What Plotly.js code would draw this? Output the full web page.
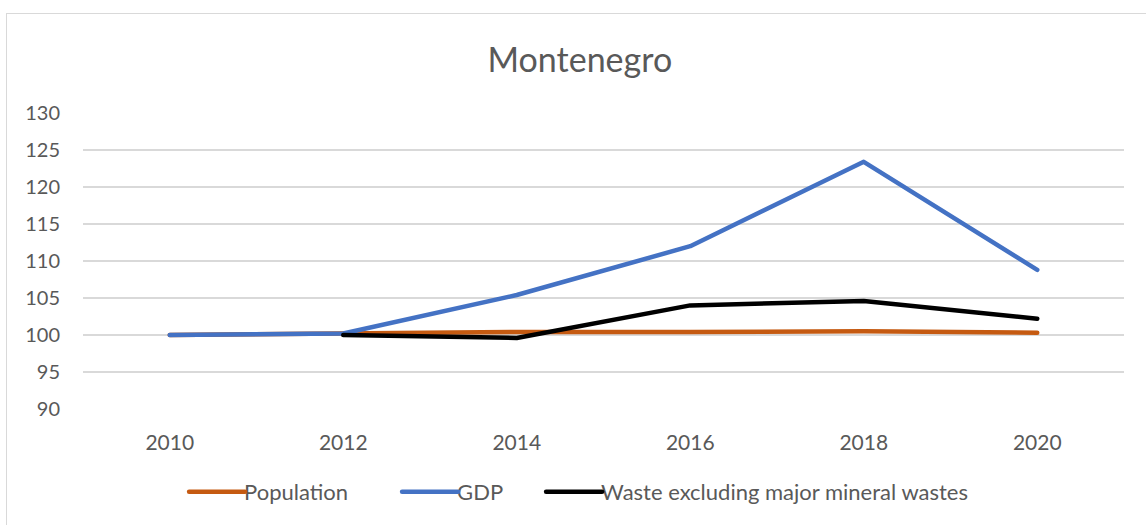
<!DOCTYPE html>
<html>
<head>
<meta charset="utf-8">
<script src="https://cdn.plot.ly/plotly-3.0.1.min.js"></script>
<style>
html,body{margin:0;padding:0;background:#fff;}
#wrap{position:relative;width:1146px;height:525px;overflow:hidden;}
#frame{position:absolute;left:6px;top:13px;width:1160px;height:540px;border:1.5px solid #d9d9d9;box-sizing:border-box;}
#chart{position:absolute;left:0;top:0;width:1146px;height:525px;}
</style>
</head>
<body>
<div id="wrap"><div id="frame"></div><div id="chart"></div></div>
<script>
const years = ["2010", "2012", "2014", "2016", "2018", "2020"];
const population = [100, 100.2, 100.4, 100.4, 100.5, 100.3];
const gdp = [100, 100.2, 105.4, 112.0, 123.4, 108.8];
const waste = [null, 100, 99.6, 104.0, 104.6, 102.2];
const yTicks = [90, 95, 100, 105, 110, 115, 120, 125, 130];

const font = "Lato, 'Open Sans', sans-serif";
const traces = [
  {x: years, y: population, name: "Population", type: "scatter", mode: "lines",
   line: {color: "#c55a11", width: 4.5}},
  {x: years, y: gdp, name: "GDP", type: "scatter", mode: "lines",
   line: {color: "#4472c4", width: 4.5}},
  {x: years, y: waste, name: "Waste excluding major mineral wastes", type: "scatter", mode: "lines",
   line: {color: "#000000", width: 4.5}, connectgaps: false}
];
const layout = {
  width: 1146, height: 525,
  margin: {l: 83, r: 22, t: 113, b: 116},
  paper_bgcolor: "rgba(0,0,0,0)",
  plot_bgcolor: "rgba(0,0,0,0)",
  title: {text: "Montenegro", x: 0.506, xanchor: "center", y: 0.885, yanchor: "middle",
          font: {family: font, size: 34, color: "#595959"}},
  xaxis: {type: "category", range: [-0.5, 5.5], showgrid: false, zeroline: false,
          showline: false, ticks: "", ticklabelstandoff: 19,
          tickfont: {family: font, size: 21, color: "#595959"}},
  yaxis: {range: [90, 130], tickvals: yTicks, ticktext: yTicks.map(String),
          gridcolor: "#d9d9d9", gridwidth: 1.3, zeroline: false, showline: false, ticks: "",
          ticklabelstandoff: 22,
          tickfont: {family: font, size: 20, color: "#595959"}},
  showlegend: true,
  legend: {orientation: "h", x: 0.49, xanchor: "center", y: -0.28, yanchor: "middle",
           font: {family: font, size: 22, color: "#595959"}, itemwidth: 56,
           traceorder: "normal", bgcolor: "rgba(0,0,0,0)"}
};
Plotly.newPlot("chart", traces, layout, {displayModeBar: false, staticPlot: true}).then(function(gd){
  // Spread legend entries apart like the original (wider gaps between entries)
  var shifts = [-44, -6, 21];
  gd.querySelectorAll('.legend [clip-path]').forEach(function(el){ el.removeAttribute('clip-path'); });
  gd.querySelectorAll('.legend .traces').forEach(function(t, i){
    var tr = t.getAttribute('transform') || '';
    var m = /translate\(\s*([-\d.e]+)[\s,]*([-\d.e]+)?\s*\)/.exec(tr);
    if (m) {
      var x = parseFloat(m[1]) + (shifts[i] || 0);
      t.setAttribute('transform', 'translate(' + x + ',' + (m[2] || 0) + ')');
    }
    var txt = t.querySelector('text.legendtext');
    if (txt) {
      var tx = parseFloat(txt.getAttribute('x')) || 0;
      txt.setAttribute('x', tx - 6);
    }
  });
  gd.querySelectorAll('.scatterlayer path.js-line, .legend .legendlines path').forEach(function(p){
    p.style.strokeLinecap = 'round';
    p.style.strokeLinejoin = 'round';
  });
});
</script>
</body>
</html>
